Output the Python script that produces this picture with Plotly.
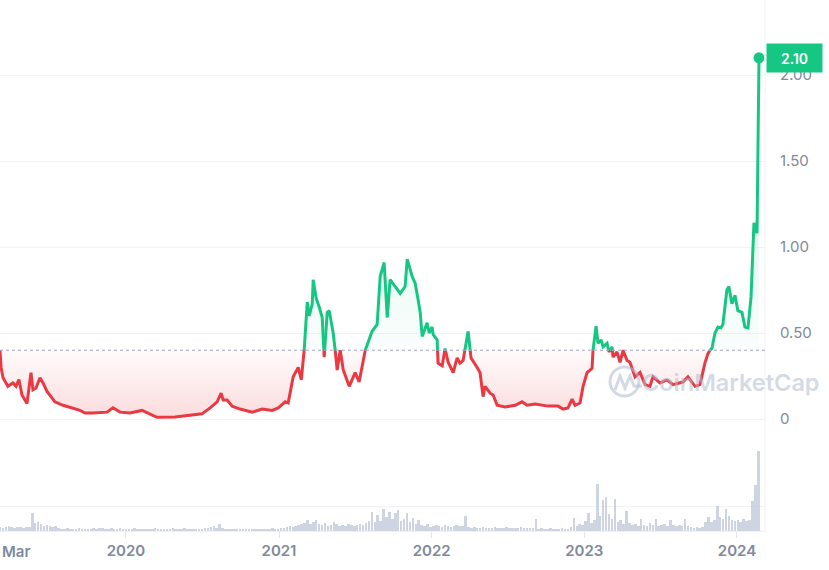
import plotly.graph_objects as go
import pandas as pd
from datetime import datetime, timedelta

# ---------------- data ----------------
# price series: time as decimal year, price in USD
price_time = [
    2019.175, 2019.182, 2019.195, 2019.227, 2019.260, 2019.280, 2019.299, 2019.319, 2019.352, 2019.378,
    2019.391, 2019.411, 2019.437, 2019.457, 2019.483, 2019.502, 2019.535, 2019.588, 2019.653, 2019.699,
    2019.732, 2019.784, 2019.876, 2019.915, 2019.961, 2020.026, 2020.105, 2020.144, 2020.203, 2020.321,
    2020.432, 2020.497, 2020.550, 2020.596, 2020.622, 2020.635, 2020.661, 2020.694, 2020.746, 2020.825,
    2020.890, 2020.956, 2020.995, 2021.041, 2021.060, 2021.093, 2021.126, 2021.146, 2021.165, 2021.185,
    2021.198, 2021.218, 2021.224, 2021.244, 2021.264, 2021.283, 2021.296, 2021.316, 2021.329, 2021.355,
    2021.368, 2021.381, 2021.401, 2021.421, 2021.460, 2021.499, 2021.525, 2021.565, 2021.610, 2021.643,
    2021.663, 2021.689, 2021.709, 2021.728, 2021.761, 2021.794, 2021.826, 2021.840, 2021.872, 2021.892,
    2021.912, 2021.925, 2021.938, 2021.970, 2021.984, 2022.003, 2022.010, 2022.036, 2022.042, 2022.069,
    2022.088, 2022.108, 2022.141, 2022.167, 2022.186, 2022.206, 2022.239, 2022.258, 2022.298, 2022.317,
    2022.337, 2022.350, 2022.383, 2022.403, 2022.429, 2022.481, 2022.547, 2022.592, 2022.625, 2022.677,
    2022.763, 2022.828, 2022.861, 2022.893, 2022.920, 2022.939, 2022.972, 2022.992, 2023.018, 2023.051,
    2023.057, 2023.077, 2023.090, 2023.110, 2023.123, 2023.149, 2023.162, 2023.182, 2023.188, 2023.214,
    2023.234, 2023.254, 2023.280, 2023.299, 2023.332, 2023.365, 2023.398, 2023.430, 2023.450, 2023.496,
    2023.542, 2023.581, 2023.646, 2023.679, 2023.725, 2023.758, 2023.790, 2023.810, 2023.823, 2023.836,
    2023.856, 2023.876, 2023.895, 2023.908, 2023.934, 2023.947, 2023.967, 2023.987, 2024.006, 2024.033,
    2024.052, 2024.072, 2024.092, 2024.111, 2024.131, 2024.144,
]
price_usd = [
    0.40, 0.30, 0.24, 0.19, 0.21, 0.19, 0.23, 0.14, 0.09, 0.27,
    0.17, 0.18, 0.24, 0.21, 0.16, 0.14, 0.10, 0.08, 0.065, 0.05,
    0.035, 0.035, 0.04, 0.065, 0.04, 0.035, 0.05, 0.035, 0.01, 0.012,
    0.025, 0.03, 0.065, 0.10, 0.15, 0.11, 0.11, 0.075, 0.058, 0.04,
    0.058, 0.05, 0.065, 0.10, 0.093, 0.245, 0.30, 0.227, 0.40, 0.68,
    0.60, 0.67, 0.81, 0.70, 0.65, 0.59, 0.36, 0.62, 0.63, 0.50,
    0.40, 0.285, 0.40, 0.285, 0.19, 0.27, 0.215, 0.40, 0.51, 0.55,
    0.83, 0.91, 0.59, 0.81, 0.77, 0.73, 0.77, 0.93, 0.83, 0.79,
    0.69, 0.62, 0.48, 0.56, 0.50, 0.535, 0.49, 0.46, 0.325, 0.31,
    0.41, 0.33, 0.27, 0.355, 0.325, 0.34, 0.51, 0.355, 0.30, 0.27,
    0.13, 0.19, 0.15, 0.14, 0.08, 0.07, 0.08, 0.10, 0.08, 0.087,
    0.075, 0.075, 0.058, 0.064, 0.115, 0.08, 0.093, 0.19, 0.27, 0.295,
    0.40, 0.54, 0.44, 0.46, 0.42, 0.44, 0.39, 0.42, 0.36, 0.39,
    0.33, 0.40, 0.34, 0.33, 0.245, 0.27, 0.20, 0.19, 0.245, 0.21,
    0.227, 0.20, 0.215, 0.245, 0.19, 0.20, 0.325, 0.38, 0.40, 0.41,
    0.50, 0.535, 0.53, 0.55, 0.75, 0.77, 0.67, 0.72, 0.63, 0.62,
    0.535, 0.53, 0.71, 1.14, 1.08, 2.10,
]

# weekly volume (relative units)
volume_start = "2019-03-06"
volume_vals = [
    4, 3, 4, 5, 4, 3, 4, 4, 3, 4, 4,
    18,
    8, 9, 7,
    5, 6, 5, 4, 5,
    3, 2, 2, 3, 2, 2, 2, 3, 2, 2,
    2, 2, 3, 2, 3, 3, 2, 2, 3, 2,
    2, 3, 2, 2, 2, 2, 3, 2, 2, 2,
    2, 2, 2, 3, 2, 2, 2, 2, 2, 3,
    2, 2, 2, 3, 2, 2, 2, 2, 2, 2, 3,
    3, 4, 5, 3,
    7,
    3, 2, 2, 2, 2, 2, 2, 2, 2, 2, 2, 2, 2, 2, 2, 2, 2, 3, 2, 2, 3, 3,
    4, 5, 4, 5, 6, 7, 8,
    11, 7, 9, 11,
    7, 6, 8, 5, 6, 9, 7, 5, 6, 5, 7, 6, 5, 6, 7, 6,
    8, 10, 19, 9, 16, 10, 22, 14, 19, 12, 18, 21, 10, 12, 18, 9, 13, 7, 11,
    6, 5, 7, 4, 5, 6, 5, 4, 6, 5, 4, 5, 6, 5,
    5, 15,
    4, 3, 4, 3, 3, 4, 3, 3, 3, 4, 3, 3, 3, 4, 3, 3, 3, 3, 4, 3, 3, 3,
    3, 12,
    2, 3, 2, 2, 3, 2, 2, 2, 3, 2, 2,
    4, 13, 5, 7, 6,
    10, 18, 8, 11, 47, 15, 31, 34, 17, 12, 32, 9, 11, 7, 20, 8,
    6, 7, 5, 12, 6, 5, 8, 6, 12, 5, 6, 7, 5, 11, 6, 5, 6, 5,
    12, 5, 4, 3, 4, 3, 4,
    9, 14, 9, 11, 25, 14, 12, 22, 15, 11,
    10, 11, 9, 12, 10, 11,
    30, 46, 80,
]

x_tick_dates = ["2020-01-01", "2021-01-01", "2022-01-01", "2023-01-01", "2024-01-01"]
x_tick_text = ["2020", "2021", "2022", "2023", "2024"]
first_month_label = "Mar"
y_tick_vals = [0, 0.5, 1.0, 1.5, 2.0]
y_tick_text = ["0", "0.50", "1.00", "1.50", "2.00"]
baseline_price = 0.40
last_price_text = "2.10"
x_range_years = [2019.1751, 2024.1832]

# ---------------- helpers ----------------
GREEN = "#16c784"
RED = "#ea3943"
LABEL = "#808a9d"


def to_date(f):
    y = int(f)
    start = datetime(y, 1, 1)
    days = (datetime(y + 1, 1, 1) - start).days
    return start + timedelta(days=(f - y) * days)


# insert baseline crossings so the line can switch colour exactly on the baseline
xs, ys = [price_time[0]], [price_usd[0]]
for i in range(1, len(price_time)):
    x0, y0 = price_time[i - 1], price_usd[i - 1]
    x1, y1 = price_time[i], price_usd[i]
    if (y0 - baseline_price) * (y1 - baseline_price) < 0:
        t = (baseline_price - y0) / (y1 - y0)
        xs.append(x0 + t * (x1 - x0))
        ys.append(baseline_price)
    xs.append(x1)
    ys.append(y1)

dates = [to_date(v) for v in xs]
red_line = [v if v <= baseline_price else None for v in ys]
green_line = [v if v >= baseline_price else None for v in ys]
red_fill = [min(v, baseline_price) for v in ys]
green_fill = [max(v, baseline_price) for v in ys]
base = [baseline_price] * len(ys)

vol_dates = pd.date_range(volume_start, periods=len(volume_vals), freq="7D")

fig = go.Figure()

fig.add_trace(go.Bar(x=vol_dates, y=volume_vals, yaxis="y2",
                     marker=dict(color="rgba(190,198,216,0.75)", line=dict(width=0)),
                     width=6 * 86400000, hoverinfo="skip"))

# red fill (below baseline)
fig.add_trace(go.Scatter(x=dates, y=base, mode="lines", line=dict(width=0), hoverinfo="skip"))
fig.add_trace(go.Scatter(x=dates, y=red_fill, mode="lines", line=dict(width=0), fill="tonexty",
                         fillgradient=dict(type="vertical", start=0, stop=baseline_price,
                                           colorscale=[[0, "rgba(234,57,67,0.18)"],
                                                       [1, "rgba(234,57,67,0.02)"]]),
                         hoverinfo="skip"))
# green fill (above baseline)
fig.add_trace(go.Scatter(x=dates, y=base, mode="lines", line=dict(width=0), hoverinfo="skip"))
fig.add_trace(go.Scatter(x=dates, y=green_fill, mode="lines", line=dict(width=0), fill="tonexty",
                         fillgradient=dict(type="vertical", start=baseline_price, stop=1.2,
                                           colorscale=[[0, "rgba(22,199,132,0.02)"],
                                                       [1, "rgba(22,199,132,0.12)"]]),
                         hoverinfo="skip"))

fig.add_trace(go.Scatter(x=dates, y=red_line, mode="lines", connectgaps=False,
                         line=dict(color=RED, width=3, shape="linear")))
fig.add_trace(go.Scatter(x=dates, y=green_line, mode="lines", connectgaps=False,
                         line=dict(color=GREEN, width=3, shape="linear")))
fig.add_trace(go.Scatter(x=[dates[-1]], y=[ys[-1]], mode="markers",
                         marker=dict(color=GREEN, size=11)))

x_range = [to_date(x_range_years[0]), to_date(x_range_years[1])]

fig.update_layout(
    width=829, height=570,
    margin=dict(l=0, r=64, t=0, b=39, autoexpand=False),
    plot_bgcolor="white", paper_bgcolor="white",
    showlegend=False,
    font=dict(family="Inter, Roboto, sans-serif", color=LABEL),
    xaxis=dict(type="date", range=x_range, showgrid=False, zeroline=False, automargin=False,
               showline=True, linecolor="#eff2f5", linewidth=1,
               tickvals=x_tick_dates, ticktext=x_tick_text,
               ticks="outside", ticklen=6, tickcolor="#e3e6ec",
               tickfont=dict(size=15, color=LABEL, weight=600)),
    yaxis=dict(side="right", range=[-0.651, 2.436], tickvals=y_tick_vals, ticktext=y_tick_text,
               showgrid=True, gridcolor="#f1f2f4", gridwidth=1, zeroline=False, automargin=False,
               ticks="", ticklabelstandoff=14,
               tickfont=dict(size=15, color=LABEL)),
    yaxis2=dict(overlaying="y", range=[0, 531], showticklabels=False, tickvals=[25], automargin=False,
                showgrid=True, gridcolor="#f1f2f4", zeroline=False, side="right"),
    bargap=0,
)

# first (partial-year) month label at the left edge
fig.add_annotation(xref="paper", yref="paper", x=0, y=-20 / 531, xanchor="left", yanchor="middle",
                   text=first_month_label, showarrow=False,
                   font=dict(size=15, color=LABEL, family="Inter, sans-serif", weight=600))

# right border line of the plot
fig.add_shape(type="line", xref="paper", yref="paper", x0=1, x1=1, y0=0, y1=1,
              line=dict(color="#eff2f5", width=1))
# dotted baseline
fig.add_shape(type="line", xref="paper", yref="y", x0=0, x1=1, y0=baseline_price, y1=baseline_price,
              line=dict(color="#a3a8c8", width=1, dash="dot"), layer="above")

# last price label
fig.add_annotation(xref="paper", yref="y", x=1, y=price_usd[-1], xanchor="left", yanchor="middle",
                   xshift=1, text=last_price_text, showarrow=False,
                   font=dict(size=14, color="white", family="Inter, sans-serif", weight=600),
                   bgcolor=GREEN, width=51, height=24, borderpad=2)

# watermark
WM = "rgba(175,186,208,0.55)"
fig.add_annotation(xref="paper", yref="paper", x=640 / 765, y=(531 - 382) / 531,
                   xanchor="left", yanchor="middle", text="CoinMarketCap", showarrow=False,
                   font=dict(size=23.5, color=WM, family="Inter, sans-serif", weight=600))
fig.add_shape(type="circle", xref="paper", yref="paper",
              x0=610 / 765, x1=639 / 765, y0=(531 - 396) / 531, y1=(531 - 367) / 531,
              line=dict(color=WM, width=3))


def p(px, py):
    return f"{px / 765:.5f},{(531 - py) / 531:.5f}"


fig.add_shape(type="path", xref="paper", yref="paper",
              path=f"M {p(615, 390)} L {p(620, 376)} L {p(625, 388)} L {p(630, 376)} L {p(634, 386)} L {p(642, 386)}",
              line=dict(color=WM, width=3))

fig.write_html("out.html", config={"displayModeBar": False},
               post_script="document.body.style.margin='0';")
